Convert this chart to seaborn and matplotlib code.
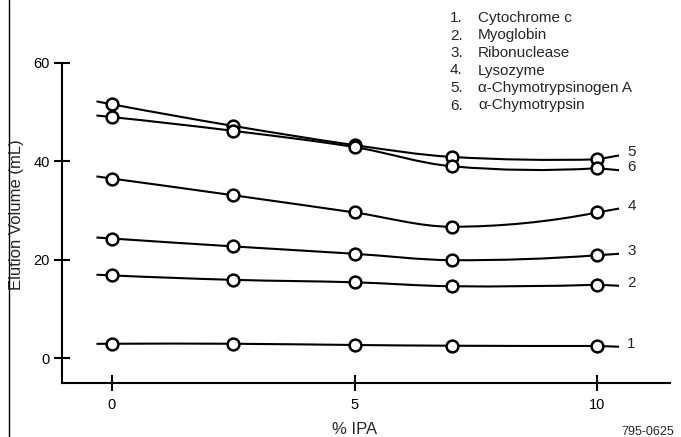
import numpy as np
import pandas as pd
import seaborn as sns
import matplotlib
matplotlib.use("Agg")
import matplotlib.pyplot as plt
from matplotlib.path import Path
from matplotlib.patches import PathPatch
from matplotlib.lines import Line2D

# % IPA values where elution volume was measured
ipa = [0, 2.5, 5, 7, 10]

cytochrome_c = [2.9, 2.9, 2.65, 2.5, 2.45]
myoglobin = [16.8, 15.9, 15.4, 14.6, 14.9]
ribonuclease = [24.3, 22.7, 21.2, 19.9, 20.9]
lysozyme = [36.5, 33.1, 29.6, 26.7, 29.6]
chymotrypsinogen_a = [51.6, 47.2, 43.3, 40.9, 40.4]
chymotrypsin = [49.0, 46.2, 42.9, 39.0, 38.6]

proteins = ["Cytochrome c", "Myoglobin", "Ribonuclease", "Lysozyme",
            "\u03b1-Chymotrypsinogen A", "\u03b1-Chymotrypsin"]
series = [cytochrome_c, myoglobin, ribonuclease, lysozyme,
          chymotrypsinogen_a, chymotrypsin]
# where the curve number sits at the right end
label_y = [2.9, 15.3, 21.8, 31.0, 41.8, 38.8]

TAIL_LEFT = 0.32
TAIL_RIGHT = 0.45


def smooth_path(x, y, y_end):
    # cubic bezier through the points, catmull-rom style tangents
    x = np.asarray(x, float)
    y = np.asarray(y, float)
    n = len(x)
    sec = np.diff(y) / np.diff(x)
    m = np.zeros(n)
    for i in range(1, n - 1):
        m[i] = (y[i + 1] - y[i - 1]) / (x[i + 1] - x[i - 1])
    m[0] = 2 * sec[0] - m[1]
    m[-1] = 2 * sec[-1] - m[-2]
    verts = [(x[0] - TAIL_LEFT, y[0] - m[0] * TAIL_LEFT), (x[0], y[0])]
    codes = [Path.MOVETO, Path.LINETO]
    for i in range(n - 1):
        h = x[i + 1] - x[i]
        verts += [(x[i] + h / 3, y[i] + m[i] * h / 3),
                  (x[i + 1] - h / 3, y[i + 1] - m[i + 1] * h / 3),
                  (x[i + 1], y[i + 1])]
        codes += [Path.CURVE4] * 3
    verts.append((x[-1] + TAIL_RIGHT, y_end))
    codes.append(Path.LINETO)
    return Path(verts, codes)


rows = []
for k, vals in enumerate(series):
    for xv, yv in zip(ipa, vals):
        rows.append({"ipa": xv, "volume": yv, "protein": proteins[k]})
df = pd.DataFrame(rows)

sns.set_style("ticks")
plt.rcParams["font.family"] = ["Liberation Sans", "DejaVu Sans"]

fig = plt.figure(figsize=(6.81, 4.37), dpi=100)
ax = fig.add_axes([62 / 681, 1 - 383 / 437, (670 - 62) / 681, (383 - 63) / 437])

for k, vals in enumerate(series):
    patch = PathPatch(smooth_path(ipa, vals, label_y[k] - 0.6), facecolor="none",
                      edgecolor="black", lw=1.5, zorder=2)
    ax.add_patch(patch)
    ax.text(10.62, label_y[k], str(k + 1), fontsize=11, va="center", ha="left")

sns.scatterplot(data=df, x="ipa", y="volume", ax=ax, marker="o", s=72,
                facecolor="white", edgecolor="black", linewidth=1.8,
                zorder=3, legend=False)

ax.set_xlim(-1.03, 11.5)
ax.set_ylim(-5.08, 60)
ax.set_xticks([0, 5, 10])
ax.set_yticks([0, 20, 40, 60])
ax.tick_params(direction="inout", length=11.5, width=1.5, labelsize=10.5,
               pad=3, color="black", labelcolor="black")
ax.tick_params(axis="x", pad=5)
for side in ["top", "right"]:
    ax.spines[side].set_visible(False)
for side in ["left", "bottom"]:
    ax.spines[side].set_linewidth(1.5)
    ax.spines[side].set_color("black")
ax.set_xlabel("")
ax.set_ylabel("")

fig.text(355 / 681, 1 - 429 / 437, "% IPA", fontsize=12, ha="center", va="center")
fig.text(17 / 681, 1 - 215 / 437, "Elution Volume (mL)", fontsize=12,
         rotation=90, ha="center", va="center")
fig.text(648 / 681, 1 - 432 / 437, "795-0625", fontsize=9, ha="center", va="center")

for k, name in enumerate(proteins):
    yy = 1 - (18 + 17.5 * k) / 437
    fig.text(450 / 681, yy, f"{k + 1}.", fontsize=11, va="center")
    fig.text(478 / 681, yy, name, fontsize=11, va="center")

# frame line on the far left
fig.add_artist(Line2D([8.5 / 681, 8.5 / 681], [0.0, 1.0], color="black", lw=1.0))

fig.savefig("out.png", dpi=100)
